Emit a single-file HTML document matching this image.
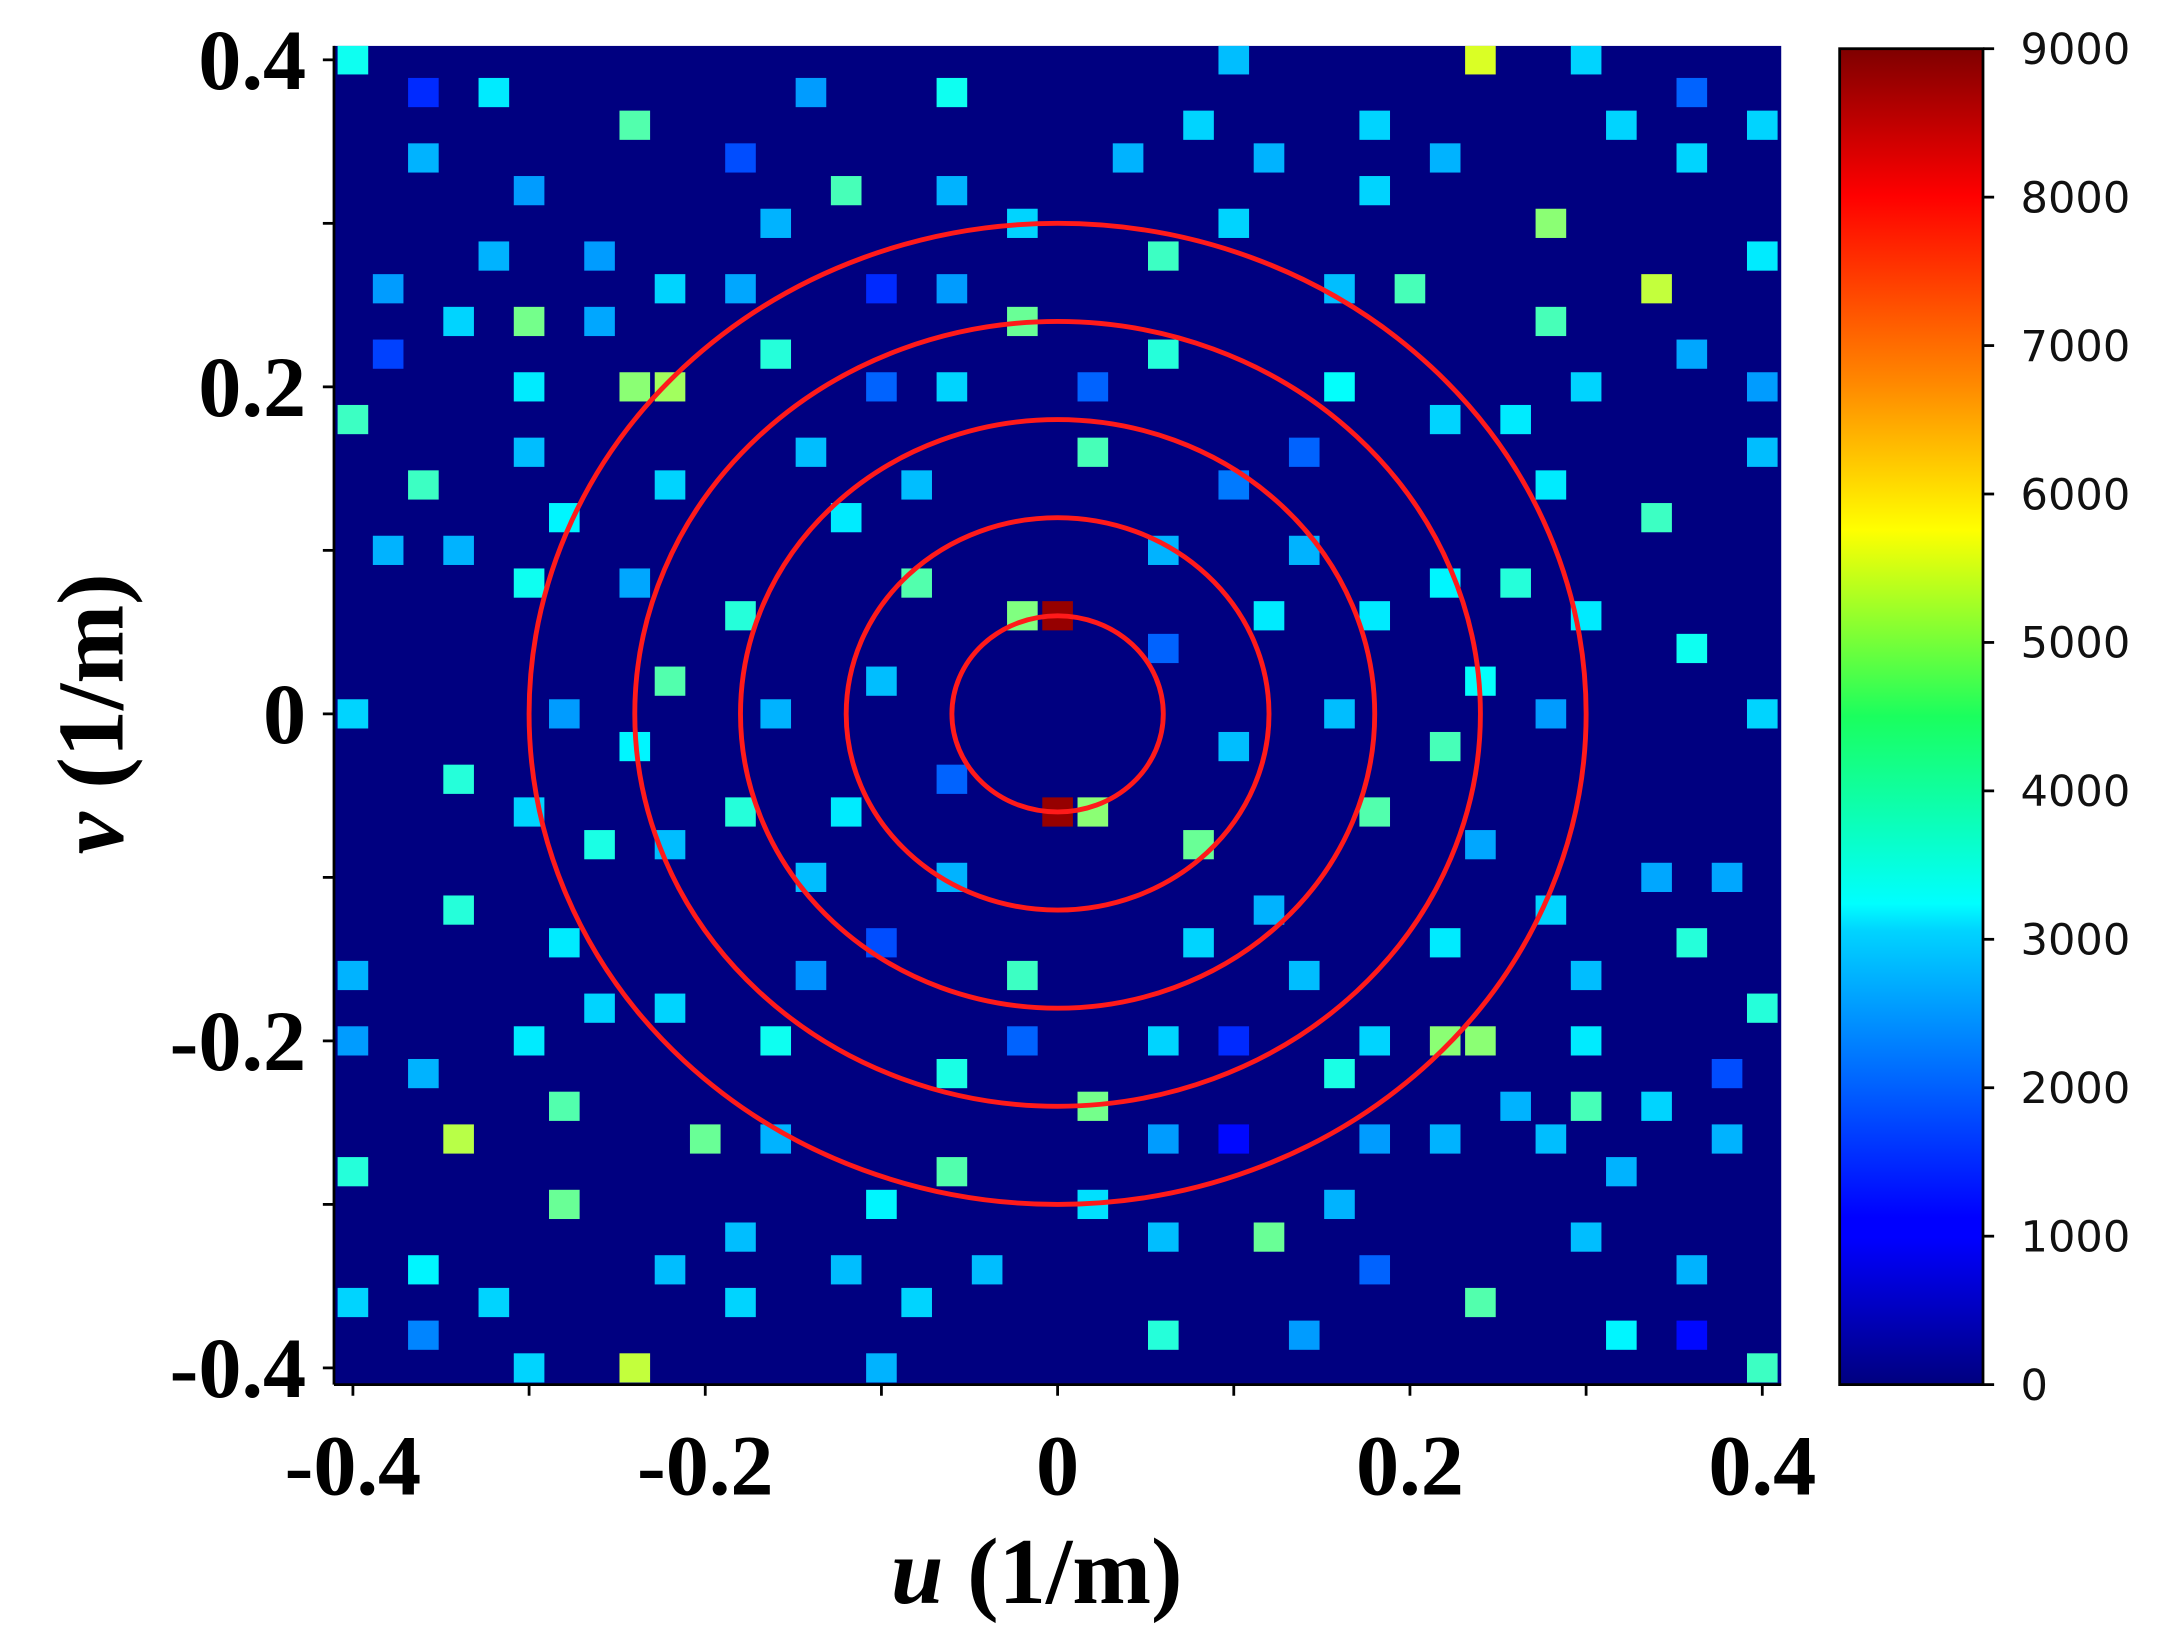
<!DOCTYPE html>
<html><head><meta charset="utf-8"><style>
html,body{margin:0;padding:0;background:#fff;}
svg{display:block;}
.tk{font-family:"Liberation Serif",serif;font-weight:bold;font-size:62px;fill:#000;}
.cb{font-family:"DejaVu Sans","Liberation Sans",sans-serif;font-size:31px;fill:#111;}
</style></head><body>
<svg id="chart" width="2182" height="1644" viewBox="0 0 1568 1181.4" xmlns="http://www.w3.org/2000/svg">
<defs>
<linearGradient id="jet" x1="0" y1="1" x2="0" y2="0">
<stop offset="0" stop-color="#00007f"/><stop offset="0.11" stop-color="#0000ff"/>
<stop offset="0.125" stop-color="#0000ff"/><stop offset="0.34" stop-color="#00d4ff"/>
<stop offset="0.36" stop-color="#0ff"/><stop offset="0.5" stop-color="#1aff5e"/>
<stop offset="0.64" stop-color="#ff0"/><stop offset="0.75" stop-color="#ff8800"/>
<stop offset="0.89" stop-color="#ff0000"/><stop offset="1" stop-color="#7f0000"/>
</linearGradient>
<clipPath id="pc"><rect x="240" y="33" width="1040" height="962"/></clipPath>
</defs>
<rect x="240" y="33" width="1040" height="962" fill="#000080"/>
<g id="cells" clip-path="url(#pc)"></g>
<g id="rings" fill="none" stroke="#ff1a1a" stroke-width="3.5"></g>
<line x1="240" y1="33" x2="240" y2="995" stroke="#000" stroke-width="2"/>
<line x1="240" y1="995" x2="1280" y2="995" stroke="#000" stroke-width="2"/>
<g id="axes"></g>
<text x="745" y="1152" text-anchor="middle" style="font-family:'Liberation Serif',serif;font-weight:bold;font-size:68px;"><tspan font-style="italic">u</tspan> (1/m)</text>
<text transform="translate(88,513) rotate(-90)" text-anchor="middle" style="font-family:'Liberation Serif',serif;font-weight:bold;font-size:68px;"><tspan font-style="italic">v</tspan> (1/m)</text>
<rect x="1322" y="35" width="103" height="960" fill="url(#jet)" stroke="#000" stroke-width="2"/>
<g id="cbticks"></g>
</svg>
<script>
const cellU=[-0.4,0.1,0.24,0.3, -0.36,-0.32,-0.14,-0.06,0.36, -0.24,0.08,0.18,0.32,0.4, -0.36,-0.18,0.04,0.12,0.22,0.36, -0.3,-0.12,-0.06,0.18, -0.16,-0.02,0.1,0.28, -0.32,-0.26,0.06,0.4, -0.38,-0.22,-0.18,-0.1,-0.06,0.16,0.2,0.34, -0.34,-0.3,-0.26,-0.02,0.28, -0.38,-0.16,0.06,0.36, -0.3,-0.24,-0.22,-0.1,-0.06,0.02,0.16,0.3,0.4, -0.4,0.22,0.26, -0.3,-0.14,0.02,0.14,0.4, -0.36,-0.22,-0.08,0.1,0.28, -0.28,-0.12,0.34, -0.38,-0.34,0.06,0.14, -0.3,-0.24,-0.08,0.22,0.26, -0.18,-0.02,0,0.12,0.18,0.3, 0.06,0.36, -0.22,-0.1,0.24, -0.4,-0.28,-0.16,0.16,0.28,0.4, -0.24,0.1,0.22, -0.34,-0.06, -0.3,-0.18,-0.12,0,0.02,0.18, -0.26,-0.22,0.08,0.24, -0.14,-0.06,0.34,0.38, -0.34,0.12,0.28, -0.28,-0.1,0.08,0.22,0.36, -0.4,-0.14,-0.02,0.14,0.3, -0.26,-0.22,0.4, -0.4,-0.3,-0.16,-0.02,0.06,0.1,0.18,0.22,0.24,0.3, -0.36,-0.06,0.16,0.38, -0.28,0.02,0.26,0.3,0.34, -0.34,-0.2,-0.16,0.06,0.1,0.18,0.22,0.28,0.38, -0.4,-0.06,0.32, -0.28,-0.1,0.02,0.16, -0.18,0.06,0.12,0.3, -0.36,-0.22,-0.12,-0.04,0.18,0.36, -0.4,-0.32,-0.18,-0.08,0.24, -0.36,0.06,0.14,0.32,0.36, -0.3,-0.24,-0.1,0.4];
const cellV=[0.4,0.4,0.4,0.4, 0.38,0.38,0.38,0.38,0.38, 0.36,0.36,0.36,0.36,0.36, 0.34,0.34,0.34,0.34,0.34,0.34, 0.32,0.32,0.32,0.32, 0.3,0.3,0.3,0.3, 0.28,0.28,0.28,0.28, 0.26,0.26,0.26,0.26,0.26,0.26,0.26,0.26, 0.24,0.24,0.24,0.24,0.24, 0.22,0.22,0.22,0.22, 0.2,0.2,0.2,0.2,0.2,0.2,0.2,0.2,0.2, 0.18,0.18,0.18, 0.16,0.16,0.16,0.16,0.16, 0.14,0.14,0.14,0.14,0.14, 0.12,0.12,0.12, 0.1,0.1,0.1,0.1, 0.08,0.08,0.08,0.08,0.08, 0.06,0.06,0.06,0.06,0.06,0.06, 0.04,0.04, 0.02,0.02,0.02, 0,0,0,0,0,0, -0.02,-0.02,-0.02, -0.04,-0.04, -0.06,-0.06,-0.06,-0.06,-0.06,-0.06, -0.08,-0.08,-0.08,-0.08, -0.1,-0.1,-0.1,-0.1, -0.12,-0.12,-0.12, -0.14,-0.14,-0.14,-0.14,-0.14, -0.16,-0.16,-0.16,-0.16,-0.16, -0.18,-0.18,-0.18, -0.2,-0.2,-0.2,-0.2,-0.2,-0.2,-0.2,-0.2,-0.2,-0.2, -0.22,-0.22,-0.22,-0.22, -0.24,-0.24,-0.24,-0.24,-0.24, -0.26,-0.26,-0.26,-0.26,-0.26,-0.26,-0.26,-0.26,-0.26, -0.28,-0.28,-0.28, -0.3,-0.3,-0.3,-0.3, -0.32,-0.32,-0.32,-0.32, -0.34,-0.34,-0.34,-0.34,-0.34,-0.34, -0.36,-0.36,-0.36,-0.36,-0.36, -0.38,-0.38,-0.38,-0.38,-0.38, -0.4,-0.4,-0.4,-0.4];
const cellVal=[3500,2800,5300,3000, 1500,3200,2500,3500,2000, 4100,3000,3000,3000,3000, 2700,1800,2700,2700,2700,3000, 2500,4000,2700,3000, 2700,3000,3000,4600, 2700,2500,3900,3200, 2500,3000,2600,1500,2500,2800,4000,5100, 3000,4400,2600,4300,4000, 1700,3700,3700,2600, 3200,4600,4800,2000,3000,2000,3400,3000,2500, 3900,3000,3200, 2800,2800,4000,2000,2800, 3900,3000,2800,2200,3200, 3300,3200,3900, 2700,2700,2700,2700, 3500,2600,4100,3300,3700, 3700,4500,8800,3200,3200,3200, 2000,3500, 4100,2800,3400, 3000,2500,2700,2800,2500,3000, 3300,2800,4000, 3700,2000, 3000,3700,3200,8800,4600,4100, 3600,2800,4300,2600, 2800,2700,2600,2600, 3700,2700,3000, 3200,1800,3000,3200,3700, 2700,2400,3900,2800,2800, 3000,3000,3700, 2500,3200,3500,2000,3000,1500,3000,4600,4600,3200, 2700,3600,3600,1800, 4100,4400,2700,4000,3000, 5000,4300,2700,2500,1200,2500,2700,2800,2700, 3700,4100,2700, 4300,3300,3100,2700, 2800,2800,4300,2800, 3300,2800,2800,2800,2000,2700, 3000,3000,3000,3000,4100, 2300,3700,2500,3300,1200, 3000,5100,2700,3900];
const ringR=[0.06,0.12,0.18,0.24,0.3];
const axisTicks=[-0.4,-0.2,0,0.2,0.4];
const minorTicks=[-0.4,-0.3,-0.2,-0.1,0,0.1,0.2,0.3,0.4];
const cbTicks=[0,1000,2000,3000,4000,5000,6000,7000,8000,9000];
const tickLabels=["-0.4","-0.2","0","0.2","0.4"];

const NS="http://www.w3.org/2000/svg";
const xs=u=>760+u*1266, ys=v=>513-v*1175;
const cbY=t=>995-t/9000*960;
function jet(t){t=Math.max(0,Math.min(1,t));
 const f=(x)=>Math.max(0,Math.min(1,x));
 const r=f(1.5-Math.abs(4*t-3)), g=f(1.5-Math.abs(4*t-2)), b=f(1.5-Math.abs(4*t-1));
 return `rgb(${Math.round(r*255)},${Math.round(g*255)},${Math.round(b*255)})`;}
function mk(tag,attrs,parent){const e=document.createElementNS(NS,tag);for(const k in attrs)e.setAttribute(k,attrs[k]);parent.appendChild(e);return e;}
const cg=document.getElementById('cells');
for(let i=0;i<cellU.length;i++){
 const r=mk('rect',{x:xs(cellU[i])-11,y:ys(cellV[i])-10.5,width:22,height:21,fill:jet(cellVal[i]/9000)},cg);
 
 
}
const rg=document.getElementById('rings');
ringR.forEach(r=>{const e=mk('ellipse',{cx:xs(0),cy:ys(0),rx:r*1266,ry:r*1175},rg);
 
 });
const ag=document.getElementById('axes');
minorTicks.forEach(t=>{
 mk('line',{x1:xs(t),y1:995,x2:xs(t),y2:1003,stroke:'#000','stroke-width':2},ag);
 mk('line',{x1:232,y1:ys(t),x2:240,y2:ys(t),stroke:'#000','stroke-width':2},ag);});
axisTicks.forEach((t,i)=>{
 const a=mk('text',{x:xs(t),y:1074,'text-anchor':'middle',class:'tk'},ag);a.textContent=tickLabels[i];
 
 
 const b=mk('text',{x:220,y:ys(t)+21,'text-anchor':'end',class:'tk'},ag);b.textContent=tickLabels[i];
 
 });
const cbg=document.getElementById('cbticks');
cbTicks.forEach(t=>{
 mk('line',{x1:1425,y1:cbY(t),x2:1433,y2:cbY(t),stroke:'#000','stroke-width':2},cbg);
 const e=mk('text',{x:1452,y:cbY(t)+11,class:'cb'},cbg);e.textContent=t;
 
 });
</script>
</body></html>
